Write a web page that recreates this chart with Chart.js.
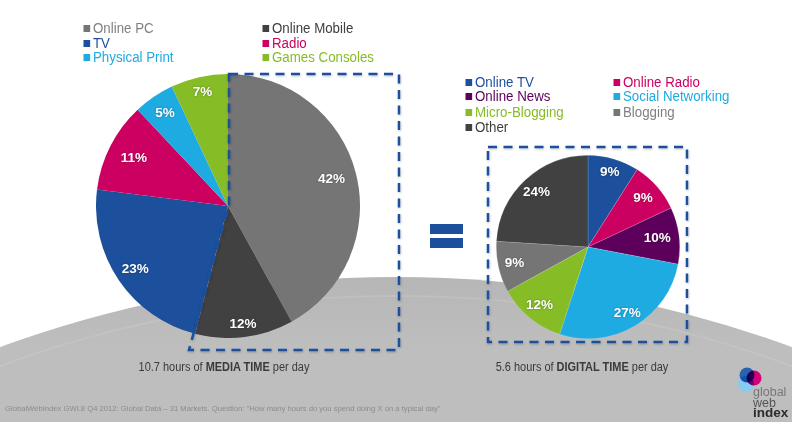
<!DOCTYPE html>
<html>
<head>
<meta charset="utf-8">
<style>
  html, body { margin: 0; padding: 0; background: #fff; }
  #stage { position: relative; width: 792px; height: 422px; overflow: hidden; font-family: "Liberation Sans", Arial, sans-serif; }
  #hill { position: absolute; left: -604px; top: 277px; width: 2000px; height: 1716px; border-radius: 50%; background: linear-gradient(#b6b6b6, #bebebe 70px); }
  #ridge { position: absolute; left: -604px; top: 295px; width: 2000px; height: 1716px; border-radius: 50%; border-top: 2px solid rgba(255,255,255,.1); box-sizing: border-box; }
  canvas { position: absolute; }
  #overlay { position: absolute; left: 0; top: 0; }
  .legend { position: absolute; font-size: 14px; line-height: 15px; white-space: nowrap; transform: scaleX(.95); transform-origin: 0 0; }
  .legend i { position: absolute; left: -10px; top: 4px; width: 7px; height: 7px; }
  .caption { position: absolute; width: 300px; text-align: center; font-size: 12px; color: #3a3a3a; transform: scaleX(.914); }
  #source { position: absolute; left: 5px; top: 404px; font-size: 7.65px; color: #8c8c8c; white-space: nowrap; }
  .logo { position: absolute; left: 753px; line-height: 12px; }
</style>
</head>
<body>
<div id="stage">
  <div id="hill"></div>
  <div id="ridge"></div>
  <canvas id="mediaChart" style="left:96px;top:74px"></canvas>
  <canvas id="digitalChart" style="left:496px;top:155px"></canvas>
  <svg id="overlay" width="792" height="422">
    <defs>
      <filter id="soft" x="-5%" y="-5%" width="110%" height="110%">
        <feDropShadow dx="0.5" dy="1" stdDeviation="1" flood-color="#000" flood-opacity=".25"/>
      </filter>
    </defs>
    <g fill="none" stroke="#1c4f9c" stroke-width="2.5" stroke-dasharray="9 6.5" filter="url(#soft)">
      <path d="M229 74 H399 V350 H189 L229 205 Z"/>
      <path d="M488 147 H687 V342 H488 Z"/>
    </g>
    <rect x="430" y="224" width="33" height="10" fill="#1c4f9c"/>
    <rect x="430" y="238" width="33" height="10" fill="#1c4f9c"/>
    <g style="isolation:isolate">
      <circle cx="746" cy="384" r="8" fill="#86ccf0"/>
      <circle cx="747" cy="375" r="7.5" fill="#2a62b0" style="mix-blend-mode:multiply"/>
      <circle cx="754" cy="378" r="7.5" fill="#d4007a" style="mix-blend-mode:multiply"/>
    </g>
  </svg>
  <div id="legends"></div>
  <div class="caption" style="left:74px;top:360px">10.7 hours of <b>MEDIA TIME</b> per day</div>
  <div class="caption" style="left:432px;top:360px">5.6 hours of <b>DIGITAL TIME</b> per day</div>
  <div id="source">GlobalWebIndex GWI.8 Q4 2012: Global Data – 31 Markets. Question: "How many hours do you spend doing X on a typical day"</div>
  <div class="logo" style="top:386px;font-size:12.5px;color:#777">global</div>
  <div class="logo" style="top:397px;font-size:12.5px;color:#555">web</div>
  <div class="logo" style="top:407px;font-size:13.5px;color:#2b2b2b;font-weight:bold">index</div>
</div>

<script src="https://cdn.jsdelivr.net/npm/chart.js@4/dist/chart.umd.min.js"></script>
<script>
const mediaCategories = ['Online PC', 'Online Mobile', 'TV', 'Radio', 'Physical Print', 'Games Consoles'];
const mediaValues = [42, 12, 23, 11, 5, 7];
const mediaColors = ['#757575', '#414141', '#1c4f9c', '#cc0060', '#1eabe2', '#86bc25'];

const digitalCategories = ['Online TV', 'Online Radio', 'Online News', 'Social Networking', 'Micro-Blogging', 'Blogging', 'Other'];
const digitalValues = [9, 9, 10, 27, 12, 9, 24];
const digitalColors = ['#1c4f9c', '#cc0060', '#5c005c', '#1eabe2', '#86bc25', '#757575', '#414141'];

// text colour differs from the slice only for the greys
const mediaTextColors = ['#808080', '#3e3e3e', '#1c4f9c', '#cc0060', '#1eabe2', '#86bc25'];
const digitalTextColors = ['#1c4f9c', '#cc0060', '#5c005c', '#1eabe2', '#86bc25', '#808080', '#3e3e3e'];

// how far out each percent label sits, as a share of the radius
const mediaLabelFactors = [0.81, 0.90, 0.85, 0.80, 0.85, 0.885];
const digitalLabelFactors = [0.85, 0.80, 0.76, 0.84, 0.83, 0.82, 0.82];

const percentLabels = {
  id: 'percentLabels',
  afterDatasetsDraw(chart, args, opts) {
    const { ctx } = chart;
    const meta = chart.getDatasetMeta(0);
    ctx.save();
    ctx.font = 'bold 13.5px "Liberation Sans", sans-serif';
    ctx.fillStyle = '#fff';
    ctx.textAlign = 'center';
    ctx.textBaseline = 'middle';
    ctx.shadowColor = 'rgba(0,0,0,.35)';
    ctx.shadowBlur = 2;
    meta.data.forEach((arc, i) => {
      const mid = (arc.startAngle + arc.endAngle) / 2;
      const r = arc.outerRadius * opts.factors[i];
      ctx.fillText(chart.data.datasets[0].data[i] + '%', arc.x + Math.cos(mid) * r, arc.y + Math.sin(mid) * r);
    });
    ctx.restore();
  }
};

function makePie(id, size, labels, values, colors, factors, border) {
  const canvas = document.getElementById(id);
  canvas.width = size;
  canvas.height = size;
  canvas.style.width = size + 'px';
  canvas.style.height = size + 'px';
  return new Chart(canvas, {
    type: 'pie',
    data: {
      labels,
      datasets: [{ data: values, backgroundColor: colors, borderColor: 'rgba(255,255,255,.3)', borderWidth: border }]
    },
    options: {
      responsive: false,
      animation: false,
      plugins: {
        legend: { display: false },
        tooltip: { enabled: false },
        percentLabels: { factors }
      }
    },
    plugins: [percentLabels]
  });
}

function addLegend(labels, markers, textColors, xs, ys) {
  const box = document.getElementById('legends');
  labels.forEach((label, i) => {
    const el = document.createElement('div');
    el.className = 'legend';
    el.style.left = xs[i % 2] + 'px';
    el.style.top = ys[Math.floor(i / 2)] + 'px';
    el.style.color = textColors[i];
    el.innerHTML = `<i style="background:${markers[i]}"></i>${label}`;
    box.appendChild(el);
  });
}

makePie('mediaChart', 264, mediaCategories, mediaValues, mediaColors, mediaLabelFactors, 0);
makePie('digitalChart', 184, digitalCategories, digitalValues, digitalColors, digitalLabelFactors, 0.5);

addLegend(mediaCategories, mediaColors, mediaTextColors, [93, 272], [21, 36, 50]);
addLegend(digitalCategories, digitalColors, digitalTextColors, [475, 623], [75, 89, 105, 120]);
</script>
</body>
</html>
